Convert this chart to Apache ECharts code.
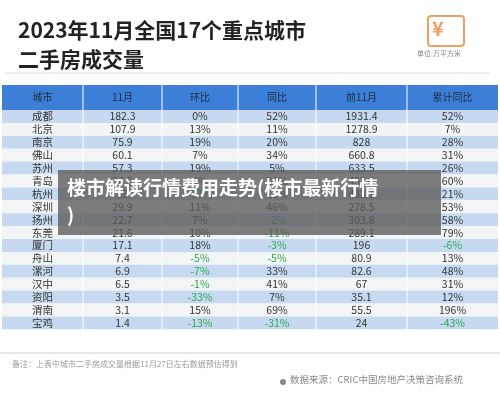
<!DOCTYPE html>
<html><head><meta charset="utf-8">
<script src="https://cdn.jsdelivr.net/npm/echarts@6/dist/echarts.min.js"></script>
<style>html,body{margin:0;padding:0;background:#fff}#main{width:500px;height:406px}</style>
</head><body><div id="main"></div>
<script>
var headers = ['城市', '11月', '环比', '同比', '前11月', '累计同比']
var cities = ['成都','北京','南京','佛山','苏州','青岛','杭州','深圳','扬州','东莞','厦门','舟山','漯河','汉中','资阳','渭南','宝鸡']
var nov = ['182.3','107.9','75.9','60.1','57.3','34.5','33','29.9','22.7','21.6','17.1','7.4','6.9','6.5','3.5','3.1','1.4']
var mom = ['0%','13%','19%','7%','19%','4%','-17%','11%','7%','10%','18%','-5%','-7%','-1%','-33%','15%','-13%']
var yoy = ['52%','11%','20%','34%','5%','30%','16%','46%','-2%','-11%','-3%','-5%','33%','41%','7%','69%','-31%']
var ytd = ['1931.4','1278.9','828','660.8','633.5','452.6','433.1','278.5','303.8','289.1','196','80.9','82.6','67','35.1','55.5','24']
var ytdYoy = ['52%','7%','28%','31%','26%','60%','21%','53%','58%','79%','-6%','13%','48%','31%','12%','196%','-43%']

var colEdges = [2, 83, 162, 238, 316, 407, 498]
var headTop = 85, headH = 25, rowH = 12.9
var font = '"Noto Sans CJK SC", sans-serif'

var g = []
// 标题
g.push({ type: 'text', left: 18, top: 16, style: { text: '2023年11月全国17个重点城市\n二手房成交量', font: 'bold 21px ' + font, lineHeight: 29, fill: '#222' } })
g.push({ type: 'rect', shape: { x: 428, y: 16, width: 36, height: 30, r: 3 }, style: { fill: 'none', stroke: '#f0a060', lineWidth: 2 } })
g.push({ type: 'text', left: 432, top: 18, style: { text: '¥', font: 'bold 20px ' + font, fill: '#f0a060' } })
g.push({ type: 'text', left: 417, top: 50, style: { text: '单位:万平方米', font: '7px ' + font, fill: '#888' } })
g.push({ type: 'line', shape: { x1: 5, y1: 73, x2: 490, y2: 73 }, style: { stroke: '#ddd', lineWidth: 1 } })
// 表头
g.push({ type: 'rect', shape: { x: colEdges[0], y: headTop, width: colEdges[6] - colEdges[0], height: headH }, style: { fill: '#3d7fd6' } })
headers.forEach(function (h, i) {
  var cx = (colEdges[i] + colEdges[i + 1]) / 2
  g.push({ type: 'text', x: cx, y: headTop + headH / 2, style: { text: h, font: '10px ' + font, fill: '#1a2a44', align: 'center', verticalAlign: 'middle' } })
})
// 表格行
cities.forEach(function (c, r) {
  var y = headTop + headH + r * rowH
  g.push({ type: 'rect', shape: { x: colEdges[0], y: y, width: colEdges[6] - colEdges[0], height: rowH }, style: { fill: r % 2 ? '#f3f4f6' : '#c6d9f1' } })
  var vals = [c, nov[r], mom[r], yoy[r], ytd[r], ytdYoy[r]]
  vals.forEach(function (v, i) {
    var cx = (colEdges[i] + colEdges[i + 1]) / 2
    g.push({ type: 'text', x: cx, y: y + rowH / 2, style: { text: v, font: '10.5px ' + font, fill: v.charAt(0) === '-' ? '#2aa84a' : '#333', align: 'center', verticalAlign: 'middle' } })
  })
})
for (var i = 1; i < 6; i++) {
  g.push({ type: 'line', shape: { x1: colEdges[i], y1: headTop, x2: colEdges[i], y2: headTop + headH + cities.length * rowH }, style: { stroke: '#fff', lineWidth: 1 } })
}
// 备注
g.push({ type: 'line', shape: { x1: 0, y1: 353, x2: 500, y2: 353 }, style: { stroke: '#e6e6e6', lineWidth: 2 } })
g.push({ type: 'text', left: 12, top: 360, style: { text: '备注：上表中城市二手房成交量根据11月27日左右数据预估得到', font: '8px ' + font, fill: '#999' } })
g.push({ type: 'circle', shape: { cx: 283, cy: 382, r: 3 }, style: { fill: '#888' } })
g.push({ type: 'text', left: 290, top: 375, style: { text: '数据来源：CRIC中国房地产决策咨询系统', font: '9.5px ' + font, fill: '#888' } })
// 覆盖标题
g.push({ type: 'rect', shape: { x: 58, y: 170, width: 383, height: 65 }, style: { fill: 'rgba(90,90,90,0.78)' }, z: 10 })
g.push({ type: 'text', left: 67, top: 174, z: 11, style: { text: '楼市解读行情费用走势(楼市最新行情\n)', font: 'bold 19px ' + font, lineHeight: 27, fill: '#fff' } })

var chart = echarts.init(document.getElementById('main'))
chart.setOption({ animation: false, graphic: g })
</script>
</body></html>
